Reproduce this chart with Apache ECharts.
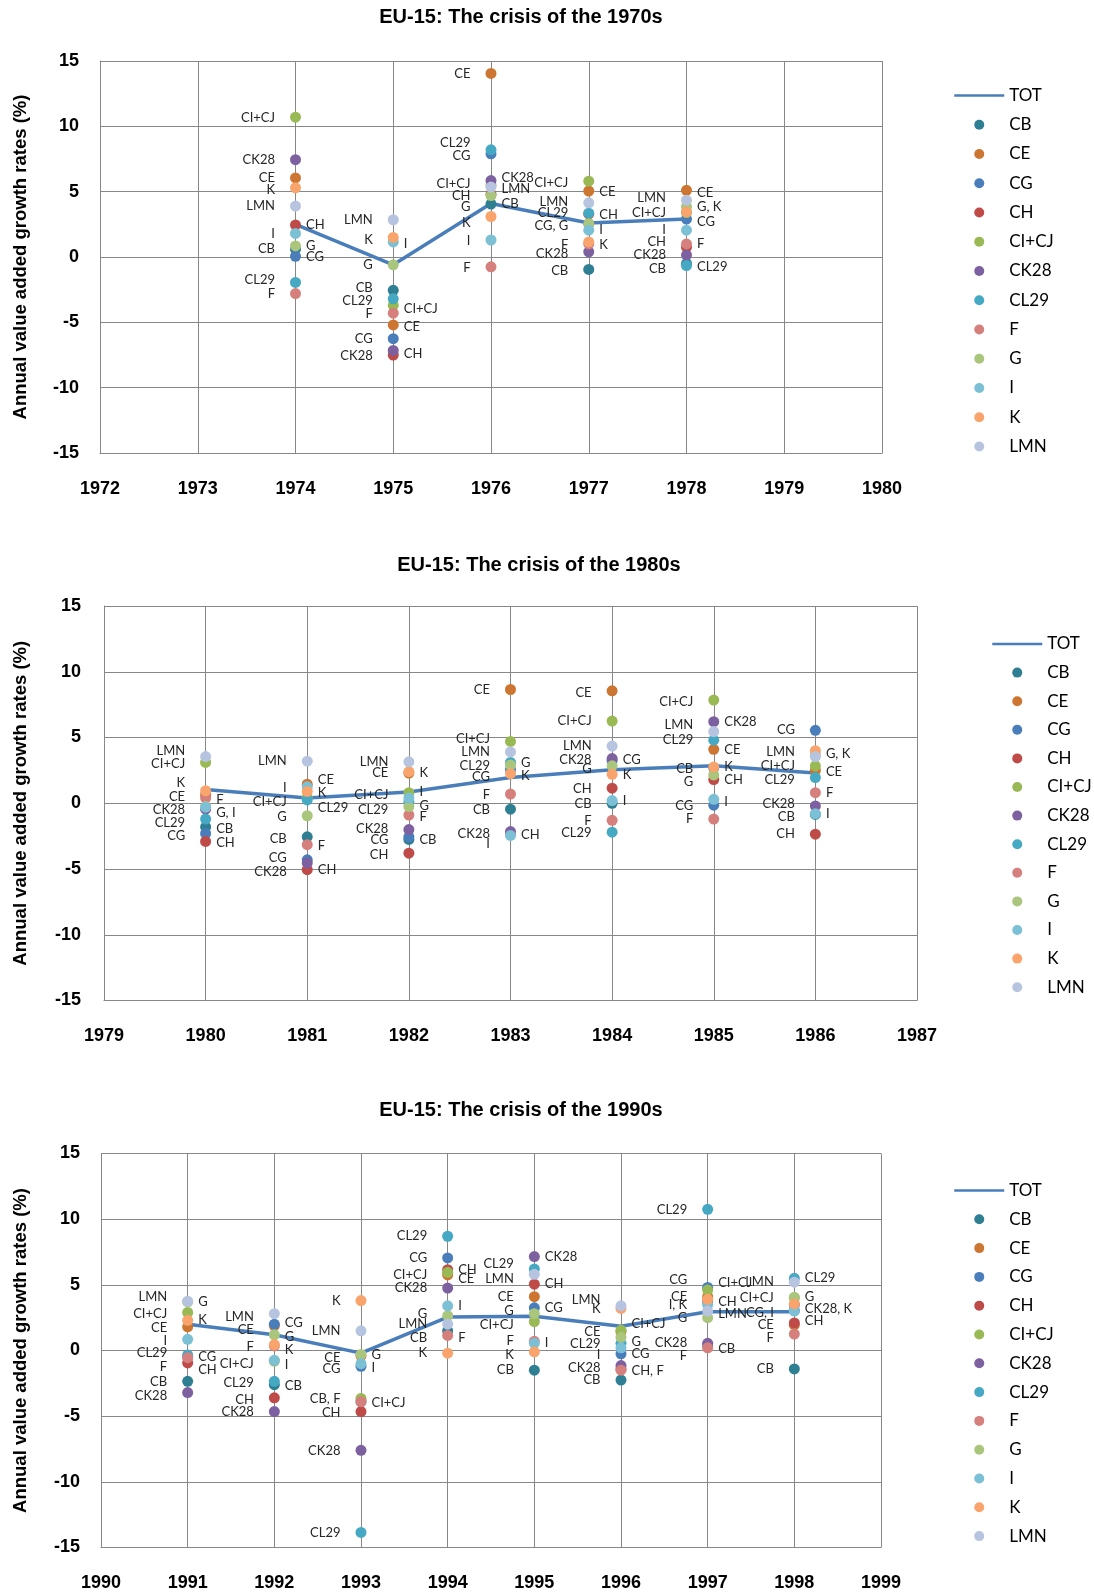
<!DOCTYPE html>
<html>
<head>
<meta charset="utf-8">
<title>EU-15 crises: annual value added growth rates</title>
<script src="https://cdn.jsdelivr.net/npm/echarts@6/dist/echarts.min.js"></script>
<style>
  html, body { margin: 0; padding: 0; background: #ffffff; }
  #chart { width: 1094px; height: 1593px; }
</style>
</head>
<body>
<div id="chart"></div>
<script>
// Years covered by the three crisis windows (1970s, 1980s, 1990s)
const years = [1974, 1975, 1976, 1977, 1978,
               1980, 1981, 1982, 1983, 1984, 1985, 1986,
               1991, 1992, 1993, 1994, 1995, 1996, 1997, 1998];

// Annual value added growth rates (%), one value per year above
const TOT  = [2.5, -0.6, 4.1, 2.6, 2.9,   1.05, 0.4, 0.85, 1.95, 2.55, 2.85, 2.3,   2.0, 1.2, -0.2, 2.55, 2.6, 1.85, 2.95, 2.95];
const CB   = [0.6, -2.55, 4.05, -0.95, -0.5,   -1.8, -2.55, -2.75, -0.45, 0.0, 2.7, -0.85,   -2.35, -2.6, -3.9, 1.5, -1.5, -2.25, 0.35, -1.4];
const CE   = [6.05, -5.2, 14.05, 5.05, 5.1,   0.65, 1.45, 2.3, 8.65, 8.55, 4.1, 2.5,   1.8, 1.9, -0.4, 5.75, 4.1, 1.45, 4.1, 1.95];
const CG   = [0.05, -6.25, 7.9, 2.55, 2.9,   -2.3, -4.3, -2.55, 2.55, 3.25, -0.15, 5.55,   -0.45, 2.0, -1.2, 7.05, 3.25, -0.25, 4.8, 3.05];
const CH   = [2.45, -7.5, 4.8, 3.3, 0.75,   -2.9, -5.05, -3.8, -2.3, 1.15, 1.8, -2.35,   -0.95, -3.6, -4.65, 6.15, 5.05, -1.4, 3.7, 2.1];
const CICJ = [10.7, -3.7, 5.5, 5.8, 3.4,   3.1, 0.45, 0.8, 4.7, 6.25, 7.85, 2.85,   2.9, -0.8, -3.65, 5.95, 2.2, 1.55, 4.6, 4.0];
const CK28 = [7.45, -7.15, 5.85, 0.4, 0.15,   -0.45, -4.55, -2.0, -2.15, 3.4, 6.2, -0.2,   -3.2, -4.65, -7.6, 4.75, 7.15, -1.15, 0.55, 3.5];
const CL29 = [-1.95, -3.2, 8.2, 3.35, -0.65,   -1.2, 0.25, 0.1, 3.1, -2.2, 4.8, 1.95,   -0.35, -2.35, -13.85, 8.7, 6.2, 0.55, 10.75, 5.5];
const F    = [-2.8, -4.3, -0.75, 1.0, 1.0,   0.4, -3.15, -0.9, 0.7, -1.3, -1.2, 0.8,   -0.55, 0.35, -3.9, 1.15, 0.7, -1.5, 0.2, 1.25];
const G    = [0.85, -0.6, 4.7, 2.55, 3.85,   -0.25, -0.95, -0.25, 2.9, 2.85, 2.15, 3.7,   3.7, 1.2, -0.3, 2.65, 2.8, 1.0, 2.5, 4.05];
const I    = [1.8, 1.15, 1.3, 2.05, 2.05,   -0.3, 1.25, 0.4, -2.45, 0.2, 0.3, -0.8,   0.85, -0.75, -1.0, 3.4, 0.55, 0.2, 3.5, 3.0];
const K    = [5.3, 1.5, 3.1, 1.15, 3.45,   0.95, 0.9, 2.4, 2.25, 2.2, 2.75, 4.0,   2.3, 0.45, 3.8, -0.2, -0.1, 3.2, 3.9, 3.55];
const LMN  = [3.9, 2.85, 5.35, 4.15, 4.35,   3.55, 3.2, 3.15, 3.9, 4.35, 5.45, 3.55,   3.75, 2.8, 1.5, 2.0, 5.8, 3.4, 3.0, 5.2];

// Sector names, in legend order
const sectorNames = ['CB', 'CE', 'CG', 'CH', 'CI+CJ', 'CK28', 'CL29', 'F', 'G', 'I', 'K', 'LMN'];

// Panel titles and x-axis year ranges
const panelTitles = ['EU-15: The crisis of the 1970s', 'EU-15: The crisis of the 1980s', 'EU-15: The crisis of the 1990s'];
const panelRanges = [[1972, 1980], [1979, 1987], [1990, 1999]];

// ---- styling ----
const sectorValues = [CB, CE, CG, CH, CICJ, CK28, CL29, F, G, I, K, LMN];
const sectorColors = ['#2f7f93', '#cc7632', '#4a7ebb', '#be4b48', '#98b954', '#7d60a0',
                      '#46a9c4', '#d6807e', '#aac67d', '#7cc0d6', '#f8a46c', '#b6c4e0'];

// Data-label side (L/R) and vertical nudge in px for each point; '' = no label
const labelLayout = {
  'CB':    ['L','L-3','R','L+1','L+5',  'R+2','L+2','R','L+1','L+1','L+1','L+2',  'L','R+1','L-3','L+7','L','L','R+3','L'],
  'CE':    ['L','R+2','L','R+1','R+2',  'L+2','R-4','L','L','L+2','R','R+1',  'L+1','L+4','L+2','R+4','L','L','L','L'],
  'CG':    ['R','L','L+2','L+2','R+3',  'L+2','L-2','L+3','L+7','R-1','L+1','L',  'R','R-1','L+3','L','R','R','L-8','L+2'],
  'CH':    ['R','R-1','L+2','R+1','L-5',  'R+1','R','L+2','R+1','L+1','R','L',  'R+7','L+2','L+1','R','R','R+2','R','R-2'],
  'CI+CJ': ['L+1','R+3','L-1','L+2','L',  'L+1','L+4','L+2','L-3','L','L+2','L',  'L+1','L+3','R+4','L+2','L+3','R-6','R-7','L'],
  'CK28':  ['L','L+5','R-3','L+2','L',  'L+1','L+9','L-1','L+2','L+1','R','L-2',  'L+3','L','L','L','R','L+2','L','R+4'],
  'CL29':  ['L-3','L+2','L-7','L','R+1',  'L+4','R+8','L+8','L+3','L+1','L','L+2',  'L-2','L+1','L','L','L-5','L+1','L','R'],
  'F':     ['L','L+1','L+1','L+1','R',  'R+2','R+1','R+2','L+1','L','L','R',  'L+9','L+1','','R+2','L','','L+8','L+4'],
  'G':     ['R','L','L+11','','R',  'R+6','L+1','R-1','R-2','L+3','L+7','R-1',  'R','R+2','R','L-2','L-3','R+4','L','R'],
  'I':     ['L','R+2','L+1','R','L',  '','L+1','R-6','L+8','R','R+3','R',  'L+1','R+4','R+4','R','R','L+7','L',''],
  'K':     ['L+2','L+2','L+6','R+3','',  'L-8','R+1','R+1','R+2','R','R','',  'R','R+5','L','L','L+3','L','',''],
  'LMN':   ['L','L','R+2','L-1','L-2',  'L-6','L','L','L','L','L-7','L-5',  'L-4','L+3','L','L','L+4','L-6','R+3','L']
};
// Shared labels where two markers sit on top of each other
const labelText = {
  'CG|1977': 'CG, G', 'G|1978': 'G, K', 'G|1980': 'G, I', 'G|1986': 'G, K',
  'CB|1993': 'CB, F', 'CH|1996': 'CH, F', 'I|1997': 'I, K',
  'CG|1998': 'CG, I', 'CK28|1998': 'CK28, K'
};

const panelLayout = [
  { grid: { left: 100, top: 61,     width: 782, height: 392 },   titleX: 521, titleY: 17,   legendLeft: 948, legendTop: 80.5,  legendGap: 9.25, nameGap: 70, labelMargin: 21 },
  { grid: { left: 104, top: 606,    width: 813, height: 394.5 }, titleX: 539, titleY: 565,  legendLeft: 986, legendTop: 629,   legendGap: 8.6,  nameGap: 74, labelMargin: 23 },
  { grid: { left: 101, top: 1153.5, width: 780, height: 394 },   titleX: 521, titleY: 1110, legendLeft: 948, legendTop: 1175.5, legendGap: 8.8, nameGap: 71, labelMargin: 21 }
];

const axisFont = "'Liberation Sans', Arial, sans-serif";
const textFont = "Lato, 'Noto Sans', sans-serif";
const gridColor = '#878787';

function parseLayout(code) {
  if (!code) return null;
  const side = code[0];
  const dy = code.length > 1 ? parseFloat(code.slice(1)) : 0;
  return { side, dy };
}

const grids = [], xAxes = [], yAxes = [], legends = [], series = [], graphics = [];

panelRanges.forEach(([from, to], p) => {
  const L = panelLayout[p];
  const idx = years.map((y, i) => i).filter(i => years[i] > from && years[i] < to);

  grids.push(Object.assign({ containLabel: false, outerBoundsMode: 'none' }, L.grid));

  xAxes.push({
    type: 'value', gridIndex: p, min: from, max: to, interval: 1,
    axisLine: { show: true, onZero: false, lineStyle: { color: gridColor, width: 1 } },
    axisTick: { show: false },
    splitLine: { show: true, lineStyle: { color: gridColor, width: 1 } },
    axisLabel: { margin: 27, fontFamily: axisFont, fontSize: 18, fontWeight: 'bold', color: '#000',
                 formatter: v => String(v) }
  });

  yAxes.push({
    type: 'value', gridIndex: p, min: -15, max: 15, interval: 5,
    name: 'Annual value added growth rates (%)', nameLocation: 'middle', nameGap: L.nameGap, nameRotate: 90,
    nameTextStyle: { fontFamily: axisFont, fontSize: 18.5, fontWeight: 'bold', color: '#000' },
    axisLine: { show: true, lineStyle: { color: gridColor, width: 1 } },
    axisTick: { show: false },
    splitLine: { show: true, lineStyle: { color: gridColor, width: 1 } },
    axisLabel: { margin: L.labelMargin, fontFamily: axisFont, fontSize: 18, fontWeight: 'bold', color: '#000' }
  });

  graphics.push({
    type: 'text', x: L.titleX, y: L.titleY, silent: true,
    style: { text: panelTitles[p], x: 0, y: 0, align: 'center', verticalAlign: 'middle',
             font: "bold 20px 'Liberation Sans', Arial, sans-serif", fill: '#000' }
  });

  // Total economy line
  series.push({
    type: 'line', name: 'TOT', xAxisIndex: p, yAxisIndex: p, z: 1,
    data: idx.map(i => [years[i], TOT[i]]),
    symbol: 'none', silent: true,
    lineStyle: { color: '#4a7ebb', width: 3.5 },
    itemStyle: { color: '#4a7ebb' }
  });

  // One scatter series per sector
  sectorNames.forEach((name, s) => {
    const vals = sectorValues[s];
    series.push({
      type: 'scatter', name, xAxisIndex: p, yAxisIndex: p, z: 2,
      symbol: 'circle', symbolSize: 11, silent: true,
      itemStyle: { color: sectorColors[s], opacity: 1 },
      label: { show: true, fontFamily: textFont, fontSize: 13, color: '#262626' },
      data: idx.map(i => {
        const lay = parseLayout(labelLayout[name][i]);
        const key = name + '|' + years[i];
        const text = key in labelText ? labelText[key] : name;
        return {
          value: [years[i], vals[i]],
          label: lay ? {
            show: true,
            position: lay.side === 'L' ? 'left' : 'right',
            distance: lay.side === 'L' ? 15 : 5,
            offset: [0, lay.dy],
            formatter: text
          } : { show: false }
        };
      })
    });
  });

  legends.push({
    orient: 'vertical', left: L.legendLeft, top: L.legendTop,
    itemWidth: 50, itemHeight: 10, itemGap: L.legendGap,
    selectedMode: false,
    textStyle: { fontFamily: textFont, fontSize: 17, color: '#000', lineHeight: 20 },
    data: [{ name: 'TOT', itemStyle: { opacity: 0 }, lineStyle: { width: 2.5, color: '#4a7ebb' } }]
      .concat(sectorNames.map(n => ({ name: n, icon: 'circle' })))
  });
});

const chart = echarts.init(document.getElementById('chart'), null, { renderer: 'canvas' });
chart.setOption({
  animation: false,
  backgroundColor: '#ffffff',
  grid: grids,
  xAxis: xAxes,
  yAxis: yAxes,
  legend: legends,
  series: series,
  graphic: graphics
});
</script>
</body>
</html>
